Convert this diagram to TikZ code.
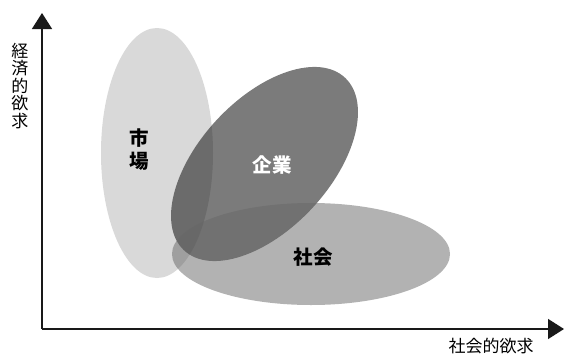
\documentclass[tikz,border=0pt]{standalone}
\usepackage{fontspec}
\setmainfont{Noto Sans CJK JP}
\usetikzlibrary{arrows.meta}
\begin{document}
\begin{tikzpicture}[x=1pt,y=-1pt,
  axis/.style={line width=1.4pt,draw=black!90,-{Triangle[length=16pt,width=20pt]}},
  axlabel/.style={font=\fontsize{17}{17.5}\selectfont,inner sep=0pt,align=center},
  inlabel/.style={font=\fontsize{19.5}{23}\selectfont\bfseries,inner sep=0pt,align=center},
  ell/.style={draw=none}]
\useasboundingbox (0,0) rectangle (573,356);
% ellipses
\fill[ell,fill={rgb,255:red,217;green,217;blue,217}] (157,153) ellipse [x radius=56, y radius=125];
\fill[ell,fill={rgb,255:red,35;green,35;blue,35},fill opacity=0.6,shift={(264.5,164)},rotate=47] (0,0) ellipse [x radius=118, y radius=65];
\fill[ell,fill={rgb,255:red,102;green,102;blue,102},fill opacity=0.5] (311,254) ellipse [x radius=139, y radius=51];
% labels
\node[inlabel] (shijo) at (139,150) {市\\場};
\node[inlabel,text=white] (kigyo) at (272,165) {企業};
\node[inlabel] (shakai) at (313,257) {社会};
% axes
\coordinate (O) at (42,329);
\coordinate (Y) at (42,13);
\coordinate (X) at (564,329);
\draw[axis] (O) -- (Y);
\draw[axis] (O) -- (X);
\node[axlabel] (ylab) at (20,86) {経\\済\\的\\欲\\求};
\node[axlabel] (xlab) at (491,346) {社会的欲求};
\end{tikzpicture}
\end{document}
